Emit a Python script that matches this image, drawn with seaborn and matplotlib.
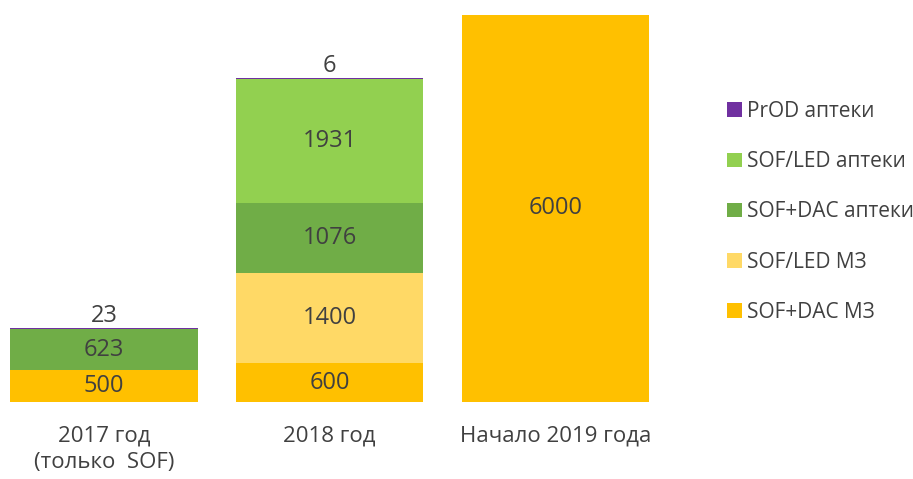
import matplotlib
matplotlib.use("Agg")
import matplotlib.pyplot as plt
from matplotlib.patches import Patch
import numpy as np
import seaborn as sns

# Categories (x axis)
categories = ["2017 год\n(только  SOF)", "2018 год", "Начало 2019 года"]

# Stacked series, bottom to top
sof_dac_mz = [500, 600, 6000]
sof_led_mz = [0, 1400, 0]
sof_dac_apt = [623, 1076, 0]
sof_led_apt = [0, 1931, 0]
prod_apt = [23, 6, 0]

series_names = ["SOF+DAC МЗ", "SOF/LED МЗ", "SOF+DAC аптеки", "SOF/LED аптеки", "PrOD аптеки"]
series_values = [sof_dac_mz, sof_led_mz, sof_dac_apt, sof_led_apt, prod_apt]
series_colors = ["#FFC000", "#FFD966", "#70AD47", "#92D050", "#7030A0"]

sns.set_theme(style="white")
plt.rcParams["font.family"] = ["Open Sans", "DejaVu Sans"]
text_color = "#404040"

fig = plt.figure(figsize=(9.13, 4.79), dpi=100)
ax = fig.add_axes([0.0, 0.1608, 680 / 913, 0.8085])

bottom = np.zeros(len(categories))
for name, vals, col in zip(series_names, series_values, series_colors):
    vals = np.array(vals, dtype=float)
    sns.barplot(x=categories, y=vals, bottom=bottom, color=col, width=0.83,
                ax=ax, saturation=1, linewidth=0, errorbar=None)
    for i, v in enumerate(vals):
        if v <= 0:
            continue
        if name == "PrOD аптеки":
            ax.annotate(f"{int(v)}", xy=(i, bottom[i] + v), xytext=(0, 0),
                        textcoords="offset points", ha="center", va="bottom",
                        fontsize=17, color=text_color)
        else:
            ax.text(i, bottom[i] + v / 2, f"{int(v)}", ha="center", va="center",
                    fontsize=17, color=text_color)
    bottom = bottom + vals

ax.set_ylim(0, 6000)
ax.set_xlim(-104 / 225.7, (680 - 104) / 225.7)
ax.set_yticks([])
ax.tick_params(axis="x", length=0, pad=17, labelsize=16, labelcolor=text_color)
for lbl in ax.get_xticklabels():
    lbl.set_linespacing(1.35)
for s in ax.spines.values():
    s.set_visible(False)
ax.set_xlabel("")
ax.set_ylabel("")

handles = [Patch(facecolor=c, edgecolor="none") for c in series_colors][::-1]
labels = series_names[::-1]
fig.legend(handles, labels, loc="upper left", bbox_to_anchor=(727 / 913, 1 - 101 / 479),
           frameon=False, fontsize=15, labelcolor=text_color,
           handlelength=0.7, handleheight=0.7, handletextpad=0.25,
           labelspacing=1.4, borderaxespad=0, borderpad=0)

fig.savefig("out.png", dpi=100)
